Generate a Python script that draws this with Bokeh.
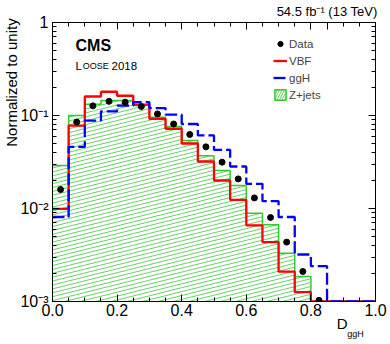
import numpy as np
from bokeh.plotting import figure
from bokeh.models import (ColumnDataSource, FixedTicker, LinearAxis, LogAxis, Label,
                          Legend, LegendItem, PrintfTickFormatter, Range1d,
                          CustomJSTickFormatter)
from bokeh.embed import file_html
from bokeh.resources import INLINE

# ---------------- data ----------------
bin_edges = [0.00, 0.05, 0.10, 0.15, 0.20, 0.25, 0.30, 0.35, 0.40, 0.45, 0.50,
             0.55, 0.60, 0.65, 0.70, 0.75, 0.80, 0.85, 0.90, 0.95, 1.00]

data_vals = [0.016, 0.085, 0.127, 0.142, 0.139, 0.125, 0.104, 0.081, 0.0625, 0.046,
             0.0315, 0.0208, 0.013, 0.008, 0.00435, 0.0021, 0.00103, 0.0, 0.0, 0.0]
vbf_vals = [0.0099, 0.078, 0.160, 0.180, 0.163, 0.131, 0.092, 0.072, 0.050, 0.032,
            0.020, 0.0124, 0.0066, 0.00435, 0.0021, 0.00126, 0.0, 0.0, 0.0, 0.0]
ggh_vals = [0.0081, 0.046, 0.088, 0.111, 0.128, 0.139, 0.120, 0.102, 0.081, 0.061,
            0.0428, 0.0283, 0.0184, 0.012, 0.0081, 0.0032, 0.0024, 0.0, 0.0, 0.0]
zjets_vals = [0.029, 0.100, 0.132, 0.145, 0.145, 0.128, 0.096, 0.076, 0.054, 0.037,
              0.0256, 0.0177, 0.0089, 0.0067, 0.0033, 0.00186, 0.0, 0.0, 0.0, 0.0]

x_ticks = [0.0, 0.2, 0.4, 0.6, 0.8, 1.0]
x_minor_ticks = [0.05, 0.10, 0.15, 0.25, 0.30, 0.35, 0.45, 0.50, 0.55,
                 0.65, 0.70, 0.75, 0.85, 0.90, 0.95]
y_ticks = [0.001, 0.01, 0.1, 1.0]
y_tick_labels = ["10\u207b\u00b3", "10\u207b\u00b2", "10\u207b\u00b9", "1"]

series_labels = ["Data", "VBF", "ggH", "Z+jets"]
lumi_text = "54.5 fb\u207b\u00b9 (13 TeV)"
y_title = "Normalized to unity"
x_title_main, x_title_sub = "D", "ggH"

# anchor positions (data units) of the texts set outside the frame
LUMI_AT = 0.85
YTITLE_AT = 0.226
XTITLE_MAIN_AT, XTITLE_SUB_AT = 0.897, 0.938

YMIN, YMAX = 1e-3, 1.0
FONT = "Liberation Sans"
RED = "#ff0000"
BLUE = "#0000ff"
GREEN = "#2ecc2e"
HATCH_GREEN = "#55cc55"

edges = np.array(bin_edges)
lo, hi = edges[:-1], edges[1:]
centers = 0.5 * (lo + hi)


def step_y(vals):
    v = np.maximum(np.array(vals, dtype=float), YMIN)
    return np.append(v, v[-1])


p = figure(width=390, height=344, x_range=Range1d(0, 1), y_range=Range1d(YMIN, YMAX),
           y_axis_type="log", output_backend="svg", toolbar_location=None,
           min_border_left=51, min_border_right=15, min_border_top=22, min_border_bottom=43)
p.xgrid.visible = False
p.ygrid.visible = False
p.outline_line_color = "black"
p.outline_line_width = 1
p.background_fill_color = "white"
p.border_fill_color = "white"

xticker = FixedTicker(ticks=x_ticks, minor_ticks=x_minor_ticks)
y_minor = [m * 10.0 ** e for e in (-3, -2, -1) for m in range(2, 10)]
yticker = FixedTicker(ticks=y_ticks, minor_ticks=y_minor)
blank = CustomJSTickFormatter(code="return ''")


def style_axis(ax):
    ax.major_tick_in = 7
    ax.major_tick_out = 0
    ax.minor_tick_in = 4
    ax.minor_tick_out = 0
    ax.axis_line_color = "black"
    ax.major_tick_line_color = "black"
    ax.minor_tick_line_color = "black"
    ax.major_label_text_font = FONT
    ax.major_label_text_font_size = "16px"
    ax.major_label_text_color = "black"


def text_axis(ax, tick, text, size, standoff):
    ax.ticker = FixedTicker(ticks=[tick], minor_ticks=[])
    ax.formatter = blank
    ax.major_label_overrides = {tick: text}
    ax.axis_line_color = None
    ax.major_tick_line_color = None
    ax.minor_tick_line_color = None
    ax.major_tick_out = 0
    ax.major_tick_in = 0
    ax.minor_tick_out = 0
    ax.minor_tick_in = 0
    ax.major_label_text_font = FONT
    ax.major_label_text_font_size = size
    ax.major_label_text_color = "black"
    ax.major_label_standoff = standoff


xa = p.xaxis[0]
xa.ticker = xticker
xa.formatter = PrintfTickFormatter(format="%.1f")
style_axis(xa)
xa.major_label_standoff = 2

ya = p.yaxis[0]
ya.ticker = yticker
ya.major_label_overrides = {t: l for t, l in zip(y_ticks, y_tick_labels)}
style_axis(ya)
ya.major_label_standoff = 4

# top axis: ticks + the luminosity text as its single label
top_ticker = FixedTicker(ticks=sorted(x_ticks + [LUMI_AT]),
                         minor_ticks=[t for t in x_minor_ticks if t != LUMI_AT])
top_ax = LinearAxis(ticker=top_ticker, formatter=blank)
style_axis(top_ax)
top_ax.major_label_overrides = {LUMI_AT: lumi_text}
top_ax.major_label_text_font_size = "13px"
top_ax.major_label_standoff = 4
p.add_layout(top_ax, "above")

right_ax = LogAxis(ticker=yticker, formatter=blank)
style_axis(right_ax)
right_ax.major_label_standoff = 0
p.add_layout(right_ax, "right")

# axis titles placed as labels of tick-less axes
ytitle_ax = LogAxis()
text_axis(ytitle_ax, YTITLE_AT, y_title, "15px", -3)
ytitle_ax.major_label_orientation = "vertical"
p.add_layout(ytitle_ax, "left")

d_ax = LinearAxis()
text_axis(d_ax, XTITLE_MAIN_AT, x_title_main, "15px", -4)
p.add_layout(d_ax, "below")
g_ax = LinearAxis()
text_axis(g_ax, XTITLE_SUB_AT, x_title_sub, "9px", -6)
p.add_layout(g_ax, "below")

# ---- Z+jets: shallow hatch lines clipped to the histogram area ----
K = 0.25 * 324.0 / 93.0        # decades per x unit (slope 1:4 on screen)
D = 3.9 / 93.0                 # vertical spacing of hatch lines, in decades
ltop = np.log10(np.maximum(np.array(zjets_vals), YMIN))
lmin = np.log10(YMIN)
hx0, hy0, hx1, hy1 = [], [], [], []
for c in np.arange(lmin - K * 1.0, 0.0, D):
    for i in range(len(lo)):
        if ltop[i] <= lmin:
            continue
        xs0 = max(lo[i], (lmin - c) / K)
        xs1 = min(hi[i], (ltop[i] - c) / K)
        if xs1 > xs0:
            hx0.append(xs0); hx1.append(xs1)
            hy0.append(10 ** (c + K * xs0)); hy1.append(10 ** (c + K * xs1))
p.segment(x0=hx0, y0=hy0, x1=hx1, y1=hy1, line_color=HATCH_GREEN, line_width=0.9)
p.step(x=edges, y=step_y(zjets_vals), mode="after", line_color=GREEN, line_width=1.5)

# legend proxy for Z+jets (NaN geometry: not drawn in the plot area)
zleg = p.quad(left=[np.nan], right=[np.nan], bottom=[np.nan], top=[np.nan],
              fill_color="white", fill_alpha=0, line_color=GREEN, line_width=1.5,
              hatch_pattern="/", hatch_color=HATCH_GREEN, hatch_scale=5, hatch_weight=1)

r_vbf = p.step(x=edges, y=step_y(vbf_vals), mode="after", line_color=RED, line_width=2.3)
r_ggh = p.step(x=edges, y=step_y(ggh_vals), mode="after", line_color=BLUE, line_width=2.3,
               line_dash="12 4")

dv = np.array(data_vals)
mask = dv > 0
r_data = p.scatter(x=centers[mask], y=dv[mask], size=6, color="black")

legend = Legend(items=[LegendItem(label=series_labels[0], renderers=[r_data]),
                       LegendItem(label=series_labels[1], renderers=[r_vbf]),
                       LegendItem(label=series_labels[2], renderers=[r_ggh]),
                       LegendItem(label=series_labels[3], renderers=[zleg])],
                location=(221, 200), padding=0, margin=0, spacing=4,
                glyph_width=14, glyph_height=13, label_height=13, label_standoff=2,
                label_text_font=FONT, label_text_font_size="11.5px",
                border_line_color=None, background_fill_alpha=0)
p.add_layout(legend)


def lab(text, x, y, size, **kw):
    p.add_layout(Label(x=x, y=y, x_units="screen", y_units="screen", text=text,
                       text_font=FONT, text_font_size=size, text_color="black", **kw))


lab("CMS", 23, 256, "16px", text_font_style="bold", text_baseline="alphabetic")
lab("L", 23, 236, "11.5px", text_baseline="alphabetic")
lab("OOSE", 30.3, 236, "9px", text_baseline="alphabetic")
lab("2018", 59, 236, "11.5px", text_baseline="alphabetic")

open("out.html", "w").write(file_html(p, INLINE))
